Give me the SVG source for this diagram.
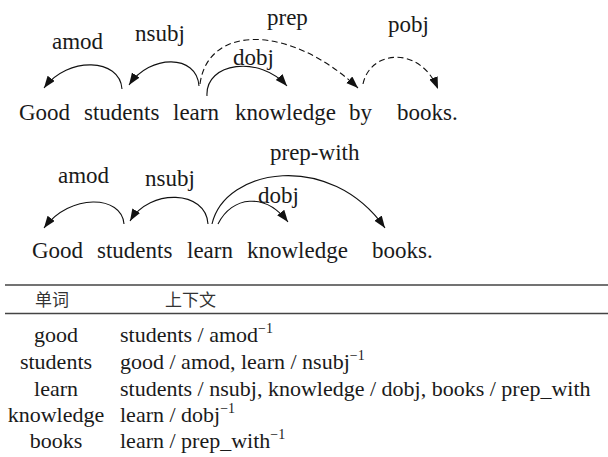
<svg xmlns="http://www.w3.org/2000/svg" width="608" height="457" viewBox="0 0 608 457">
  <defs>
    <marker id="arrow" markerUnits="userSpaceOnUse" markerWidth="13" markerHeight="10" refX="12" refY="4.5" orient="auto">
      <path d="M0,0 L12,4.5 L0,9 z" fill="#111"/>
    </marker>
    <style>
      .w { font-size: 23px; }
      .lbl { font-size: 23px; }
      .arc { fill: none; stroke: #111; stroke-width: 1.1; marker-end: url(#arrow); }
      .dash { stroke-dasharray: 6 3.5; }
      .cell { font-size: 22px; }
      .sup { font-size: 14px; }
      .hd { font-size: 17px; fill: #333; }
      .rule { stroke: #444; stroke-width: 1.4; }
    </style>
  </defs>

  <g font-family="Liberation Serif, Times New Roman, DejaVu Serif, serif" fill="#1a1a1a">
  <!-- Sentence 1 -->
  <g id="s1-good"><text class="w" x="19" y="120">Good</text></g>
  <g id="s1-students"><text class="w" x="84" y="120">students</text></g>
  <g id="s1-learn"><text class="w" x="173" y="120">learn</text></g>
  <g id="s1-knowledge"><text class="w" x="235" y="120">knowledge</text></g>
  <g id="s1-by"><text class="w" x="349" y="120">by</text></g>
  <g id="s1-books"><text class="w" x="397" y="120">books.</text></g>

  <!-- Sentence 2 -->
  <g id="s2-good"><text class="w" x="32" y="258">Good</text></g>
  <g id="s2-students"><text class="w" x="97" y="258">students</text></g>
  <g id="s2-learn"><text class="w" x="187" y="258">learn</text></g>
  <g id="s2-knowledge"><text class="w" x="247" y="258">knowledge</text></g>
  <g id="s2-books"><text class="w" x="372" y="258">books.</text></g>

  <!-- Dependency arcs -->
  <g id="connectors">
    <path class="arc" d="M122,89 C120,58 68,56 44,88"/>
    <path class="arc" d="M199,86 C197,54 150,54 129,85"/>
    <path class="arc" d="M207,96 C205,62 260,55 287,86"/>
    <path class="arc dash" d="M200,84 C208,24 290,24 358,88"/>
    <path class="arc dash" d="M363,84 C370,50 420,45 438,89"/>

    <path class="arc" d="M124,224 C122,195 70,193 44,228"/>
    <path class="arc" d="M208,224 C206,190 150,188 130,221"/>
    <path class="arc" d="M218,224 C232,196 265,192 288,222"/>
    <path class="arc" d="M212,224 C225,168 330,150 385,228"/>
  </g>

  <!-- Arc labels -->
  <g id="labels">
    <text class="lbl" x="52" y="49">amod</text>
    <text class="lbl" x="135" y="41">nsubj</text>
    <text class="lbl" x="267" y="25">prep</text>
    <text class="lbl" x="233" y="65">dobj</text>
    <text class="lbl" x="388" y="32">pobj</text>

    <text class="lbl" x="58" y="183">amod</text>
    <text class="lbl" x="145" y="186">nsubj</text>
    <text class="lbl" x="270" y="160">prep-with</text>
    <text class="lbl" x="258" y="203">dobj</text>
  </g>

  <!-- Context table -->
  <g id="table">
    <line class="rule" x1="5" y1="285" x2="608" y2="285"/>
    <line class="rule" x1="5" y1="313.5" x2="608" y2="313.5"/>
    <text class="hd" x="52" y="306" text-anchor="middle" font-family="Noto Sans CJK SC, sans-serif">单词</text>
    <text class="hd" x="165" y="306" font-family="Noto Sans CJK SC, sans-serif">上下文</text>

    <text class="cell" x="56" y="342" text-anchor="middle">good</text>
    <text class="cell" x="56" y="369" text-anchor="middle">students</text>
    <text class="cell" x="56" y="396" text-anchor="middle">learn</text>
    <text class="cell" x="56" y="422" text-anchor="middle">knowledge</text>
    <text class="cell" x="56" y="448" text-anchor="middle">books</text>

    <text class="cell" x="120" y="342">students / amod<tspan class="sup" dy="-9">−1</tspan></text>
    <text class="cell" x="120" y="369">good / amod, learn / nsubj<tspan class="sup" dy="-9">−1</tspan></text>
    <text class="cell" x="120" y="396">students / nsubj, knowledge / dobj, books / prep_with</text>
    <text class="cell" x="120" y="422">learn / dobj<tspan class="sup" dy="-9">−1</tspan></text>
    <text class="cell" x="120" y="448">learn / prep_with<tspan class="sup" dy="-9">−1</tspan></text>
  </g>
  </g>
</svg>
